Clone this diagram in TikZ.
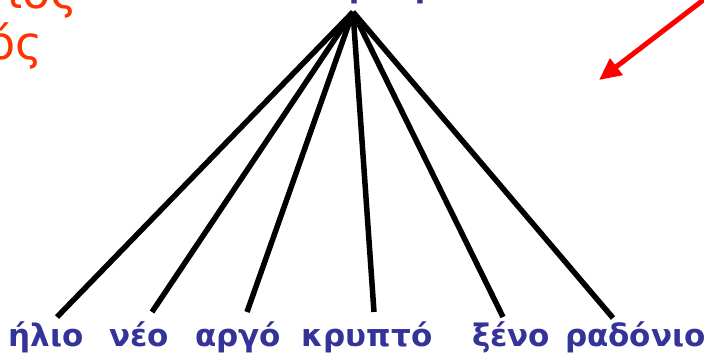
\documentclass[tikz,border=0pt]{standalone}
\usepackage{fontspec}
\setmainfont{DejaVu Sans}
\usetikzlibrary{arrows.meta}
\definecolor{lblblue}{RGB}{51,51,153}
\definecolor{orng}{RGB}{255,51,0}
\definecolor{arrred}{RGB}{255,0,0}
\begin{document}
\begin{tikzpicture}[x=1pt,y=-1pt,
  lbl/.style={anchor=base, inner sep=0pt, text=lblblue, font=\fontsize{31}{31}\selectfont\bfseries},
  ttl/.style={anchor=base west, inner sep=0pt, text=lblblue, font=\fontsize{31}{31}\selectfont\bfseries},
  side/.style={anchor=base east, inner sep=0pt, text=orng, font=\fontsize{46}{46}\selectfont},
  branch/.style={line width=5.5pt, black},
  pointer/.style={line width=5pt, arrred, -{Triangle[length=22pt,width=20pt]}}]
\useasboundingbox (0,0) rectangle (704,357);
% partial texts at the top
\node[side] (s1) at (78,8) {ιος};
\node[side] (s2) at (43,59) {ός};
\node[ttl] (title) at (252,-2.5) {Τα ευγενή};
% red arrow
\coordinate (astart) at (745,-32);
\coordinate (atip) at (599,80);
\draw[pointer] (astart) -- (atip);
% tree
\coordinate (apex) at (353,12);
\coordinate (e1) at (57,317);
\coordinate (e2) at (152,312);
\coordinate (e3) at (247,312);
\coordinate (e4) at (374,312);
\coordinate (e5) at (503,317);
\coordinate (e6) at (613,318);
\foreach \e in {e1,e2,e3,e4,e5,e6} \draw[branch] (apex) -- (\e);
% labels
\node[lbl] (l1) at (46,346) {ήλιο};
\node[lbl] (l2) at (139,346) {νέο};
\node[lbl] (l3) at (238,346) {αργό};
\node[lbl] (l4) at (367,346) {κρυπτό};
\node[lbl] (l5) at (511,346) {ξένο};
\node[lbl, anchor=base west] (l6) at (565,346) {ραδόνιο};
\end{tikzpicture}
\end{document}
